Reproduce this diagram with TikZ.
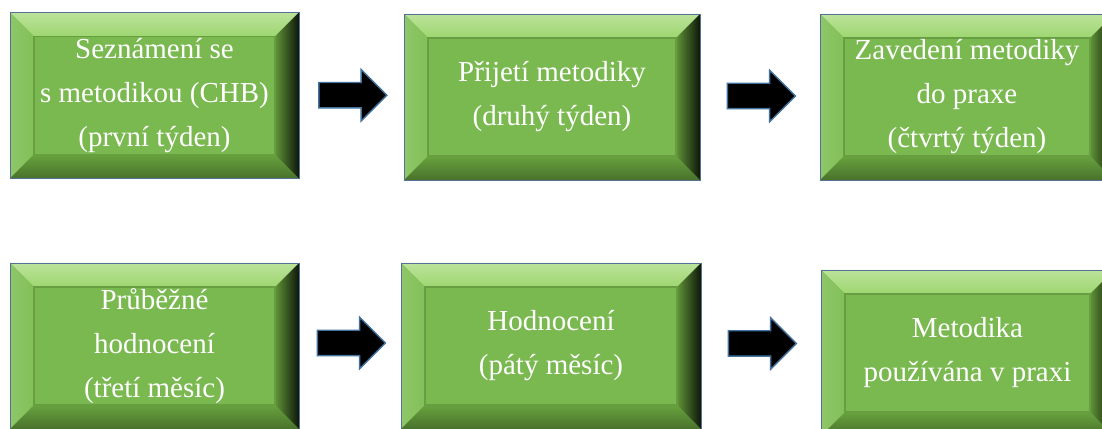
\documentclass[tikz,border=0pt]{standalone}
\usepackage{fontspec}
\setmainfont{Liberation Serif}
\usetikzlibrary{shapes.arrows,calc}
\definecolor{boxface}{RGB}{122,184,80}
\definecolor{boxtop}{RGB}{158,214,112}
\definecolor{boxleft}{RGB}{130,192,88}
\definecolor{boxbottom}{RGB}{104,162,62}
\definecolor{boxright}{RGB}{96,148,56}
\definecolor{boxrim}{RGB}{104,158,66}
\definecolor{boxline}{RGB}{84,112,150}
\definecolor{arrowline}{RGB}{65,113,156}
\newcommand{\bevw}{24pt}
\tikzset{%
  stepbox/.style   = {shape=rectangle, draw=boxline, line width=0.8pt,%
                      fill=boxface, text=white, align=center,%
                      minimum height=166pt, inner sep=0pt,%
                      font=\fontsize{29pt}{44pt}\selectfont,%
                      path picture={%
                        \coordinate (bl) at (path picture bounding box.south west);
                        \coordinate (tr) at (path picture bounding box.north east);
                        \coordinate (br) at (bl -| tr);
                        \coordinate (tl) at (bl |- tr);
                        \shade [top color=boxtop!70!white, bottom color=boxtop]
                          (tl) -- (tr) -- ([shift={(-\bevw,-\bevw)}]tr) -- ([shift={(\bevw,-\bevw)}]tl) -- cycle;
                        \shade [left color=boxleft!90!white, right color=boxleft]
                          (tl) -- ([shift={(\bevw,-\bevw)}]tl) -- ([shift={(\bevw,\bevw)}]bl) -- (bl) -- cycle;
                        \shade [top color=boxbottom, bottom color=boxbottom!70!black]
                          (bl) -- ([shift={(\bevw,\bevw)}]bl) -- ([shift={(-\bevw,\bevw)}]br) -- (br) -- cycle;
                        \shade [left color=boxright, right color=boxright!15!black]
                          (tr) -- (br) -- ([shift={(-\bevw,\bevw)}]br) -- ([shift={(-\bevw,-\bevw)}]tr) -- cycle;
                        \draw [boxrim, line width=1.2pt]
                          ([shift={(\bevw,\bevw)}]bl) rectangle ([shift={(-\bevw,-\bevw)}]tr);
                      }},%
  flowarrow/.style = {single arrow, draw=arrowline, fill=black, line width=1.4pt,%
                      minimum height=68pt, inner xsep=0pt, inner ysep=12pt,%
                      single arrow head extend=13pt, xshift=-5pt}%
}

\begin{document}
\begin{tikzpicture}[x=1pt,y=1pt]
	\useasboundingbox (0,0) rectangle (1102,428);
	\clip (0,0) rectangle (1102,428);
	% first row
	\node [stepbox, minimum width=289pt] (seznameni) at (154.5,332.5)
		{Seznámení se\\ s metodikou (CHB)\\ (první týden)};
	\node [stepbox, minimum width=296pt] (prijeti) at (552,331)
		{Přijetí metodiky\\ (druhý týden)};
	\node [stepbox, minimum width=294pt] (zavedeni) at (967,331)
		{Zavedení metodiky\\ do praxe\\ (čtvrtý týden)};
	% second row
	\node [stepbox, minimum width=289pt] (prubezne) at (154.5,82)
		{Průběžné\\ hodnocení\\ (třetí měsíc)};
	\node [stepbox, minimum width=300pt] (hodnoceni) at (551,82)
		{Hodnocení\\ (pátý měsíc)};
	\node [stepbox, minimum width=293pt] (praxe) at (967.5,75)
		{Metodika\\ používána v praxi};
	% arrows
	\node [flowarrow] (sipka1) at ($(seznameni.east)!0.5!(prijeti.west)+(0,1)$) {};
	\node [flowarrow] (sipka2) at ($(prijeti.east)!0.5!(zavedeni.west)+(0,1)$) {};
	\node [flowarrow] (sipka3) at ($(prubezne.east)!0.5!(hodnoceni.west)+(0,3)$) {};
	\node [flowarrow] (sipka4) at ($(hodnoceni.east)!0.5!(praxe.west)+(0,6)$) {};
\end{tikzpicture}
\end{document}
